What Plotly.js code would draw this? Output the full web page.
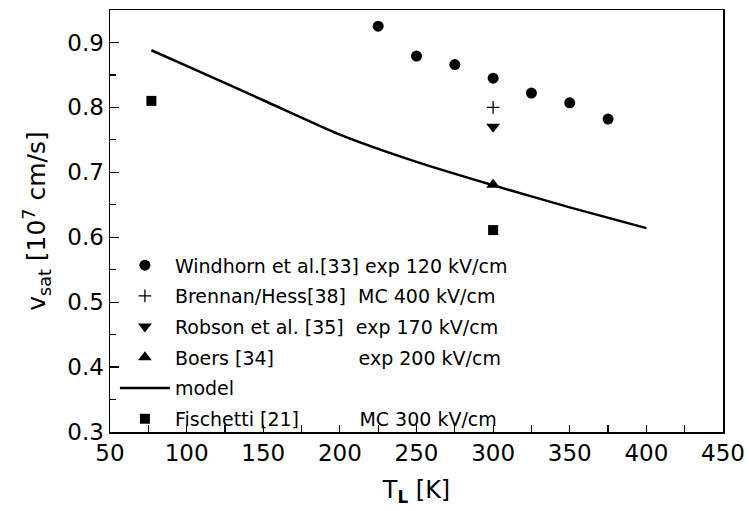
<!DOCTYPE html>
<html>
<head>
<meta charset="utf-8">
<script src="https://cdn.plot.ly/plotly-3.0.1.min.js"></script>
<style>html,body{margin:0;padding:0;background:#fff;}#chart{width:749px;height:511px;}</style>
</head>
<body>
<div id="chart"></div>
<script>
// Data
const windhornT = [225, 250, 275, 300, 325, 350, 375];
const windhornV = [0.925, 0.879, 0.866, 0.845, 0.822, 0.807, 0.782];
const brennanT = [300];
const brennanV = [0.800];
const robsonT = [300];
const robsonV = [0.770];
const boersT = [300];
const boersV = [0.681];
const modelT = [77, 100, 150, 200, 250, 300, 350, 400];
const modelV = [0.888, 0.864, 0.811, 0.758, 0.716, 0.680, 0.646, 0.614];
const fischettiT = [77, 300];
const fischettiV = [0.810, 0.611];

const NB = '\u00A0';
const labels = [
  'Windhorn et al.[33] exp 120 kV/cm',
  'Brennan/Hess[38]' + NB + NB + 'MC 400 kV/cm',
  'Robson et al. [35]' + NB + NB + 'exp 170 kV/cm',
  'Boers [34]' + NB.repeat(14) + 'exp 200 kV/cm',
  'model',
  'Fischetti [21]' + NB.repeat(10) + 'MC 300 kV/cm'
];

const FONT = 'DejaVu Sans, Liberation Sans, Arial, sans-serif';

const traces = [
  {x: windhornT, y: windhornV, mode: 'markers', name: labels[0], legendgroup: 'a', legendrank: 1,
   marker: {symbol: 'circle', size: 11, color: '#000'}},
  {x: brennanT, y: brennanV, mode: 'markers', name: labels[1], legendgroup: 'b', legendrank: 2,
   marker: {symbol: 'cross-thin', size: 9, color: '#000', line: {width: 1.3, color: '#000'}}},
  {x: robsonT, y: robsonV, mode: 'markers', name: labels[2], legendgroup: 'c', legendrank: 3,
   marker: {symbol: 'triangle-down', size: 12, color: '#000'}},
  {x: modelT, y: modelV, mode: 'lines', name: labels[4], legendgroup: 'e', legendrank: 5,
   line: {color: '#000', width: 2.5, shape: 'spline', smoothing: 0.6}},
  {x: boersT, y: boersV, mode: 'markers', name: labels[3], legendgroup: 'd', legendrank: 4,
   marker: {symbol: 'triangle-up', size: 12, color: '#000'}},
  {x: fischettiT, y: fischettiV, mode: 'markers', name: labels[5], legendgroup: 'f', legendrank: 6,
   marker: {symbol: 'square', size: 10, color: '#000'}}
];

const layout = {
  width: 749, height: 511,
  margin: {l: 110, r: 26, t: 10, b: 79},
  paper_bgcolor: '#fff', plot_bgcolor: '#fff',
  font: {family: FONT, color: '#000', size: 22},
  showlegend: true,
  legend: {
    x: 0.008, y: 0.44, xanchor: 'left', yanchor: 'top',
    bgcolor: 'rgba(0,0,0,0)', borderwidth: 0,
    font: {family: FONT, size: 19, color: '#000'},
    traceorder: 'grouped', tracegroupgap: 3, itemwidth: 50
  },
  xaxis: {
    range: [50, 450], dtick: 50, tick0: 50,
    showgrid: false, zeroline: false,
    showline: true, linecolor: '#000', linewidth: 1.5, mirror: true,
    ticks: 'inside', ticklen: 7, tickwidth: 1.2, tickcolor: '#000',
    minor: {dtick: 25, ticks: 'inside', ticklen: 7, tickwidth: 1.2, tickcolor: '#000', showgrid: false},
    tickfont: {family: FONT, size: 23, color: '#000'},
    title: {text: 'T<sub><b>L</b></sub> [K]', font: {family: FONT, size: 24, color: '#000'}, standoff: 16}
  },
  yaxis: {
    range: [0.3, 0.95], dtick: 0.1, tick0: 0.3,
    showgrid: false, zeroline: false,
    showline: true, linecolor: '#000', linewidth: 1.5, mirror: true,
    ticks: 'inside', ticklen: 9, tickwidth: 1.2, tickcolor: '#000',
    minor: {dtick: 0.05, ticks: 'inside', ticklen: 6, tickwidth: 1.2, tickcolor: '#000', showgrid: false},
    tickformat: '.1f',
    tickfont: {family: FONT, size: 23, color: '#000'},
    title: {text: 'v<sub>sat</sub> [10<sup>7</sup> cm/s]', font: {family: FONT, size: 25, color: '#000'}, standoff: 14}
  }
};

Plotly.newPlot('chart', traces, layout, {displayModeBar: false, staticPlot: true});
</script>
</body>
</html>
